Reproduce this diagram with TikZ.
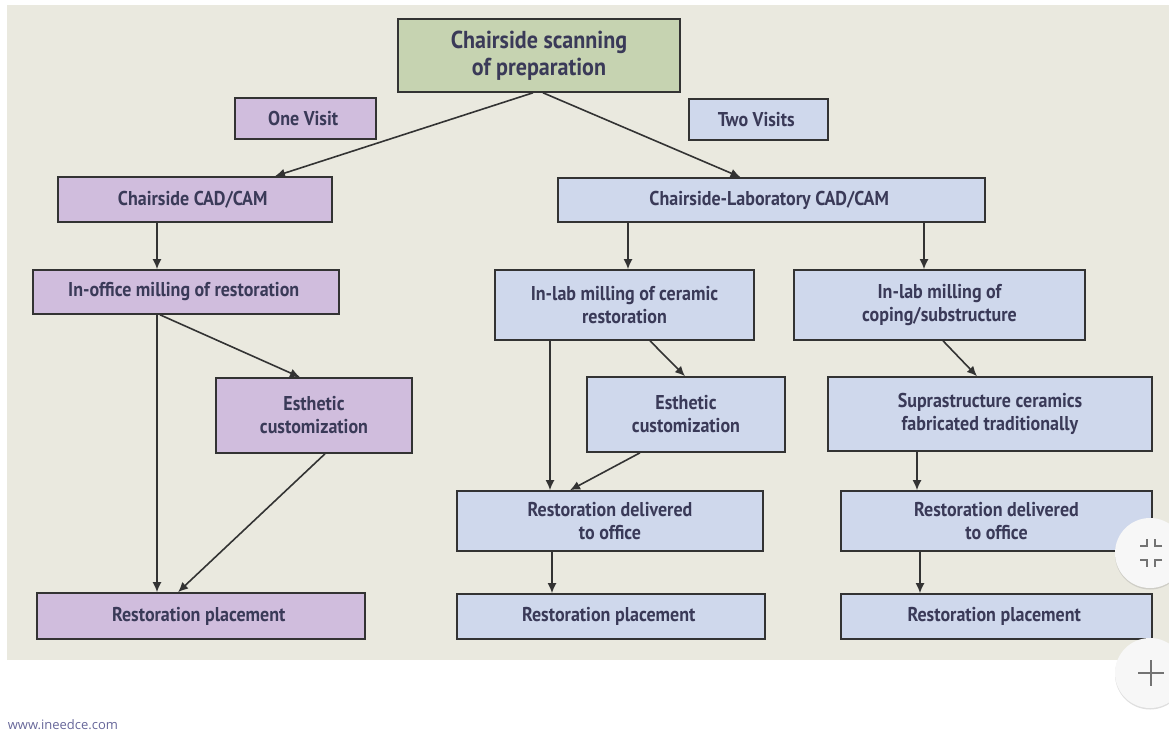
\documentclass[tikz,border=0pt]{standalone}
\usepackage{fontspec}
\setmainfont{PT Sans}
\newfontfamily\boxfont[FakeStretch=0.9]{PT Sans}
\newfontfamily\webfont{Open Sans}
\usetikzlibrary{arrows.meta,shadows}
\usepackage{xcolor}

\definecolor{paper}{HTML}{EAE9DF}
\definecolor{sage}{HTML}{C6D3B1}
\definecolor{lilac}{HTML}{D0BDDD}
\definecolor{powder}{HTML}{CFD8EC}
\definecolor{ink}{HTML}{3A3A58}
\definecolor{frame}{HTML}{333333}

\begin{document}
\begin{tikzpicture}[x=1pt, y=-1pt, >={Latex[length=10pt,width=9pt]},
every node/.style={
    rectangle,
    inner sep=3pt,
    draw=frame,
    line width=1.6pt,
    fill=powder,
    text=ink,
    align=center,
    font=\boxfont\bfseries\fontsize{20}{23}\selectfont
}]
    \useasboundingbox (0,0) rectangle (1169,731);
    \fill[paper] (7,5) rectangle (1169,660);

    \node (scanning) [fill=sage, minimum width=282pt, minimum height=73pt,
        font=\boxfont\bfseries\fontsize{24.5}{27}\selectfont] at (539, 55.5)
    {
        Chairside scanning\\of preparation
    };



    \node (one_visit) [fill=lilac, minimum width=141pt, minimum height=41pt] at (305.5, 118.5)
    {
        One Visit
    };
    \node (chairside_cad_cam) [fill=lilac, minimum width=274pt, minimum height=45pt] at (195, 199.5)
    {
        Chairside CAD/CAM
    };
    \node (in_office_milling) [fill=lilac, minimum width=306pt, minimum height=44pt] at (186, 292)
    {
        In-office milling of restoration
    };
    \node (esthetic_left) [fill=lilac, minimum width=196pt, minimum height=75pt] at (314, 415.5)
    {
        Esthetic\\customization
    };
    \node (placement_left) [fill=lilac, minimum width=328pt, minimum height=46pt] at (201, 616)
    {
        Restoration placement
    };



    \node (two_visits) [minimum width=139pt, minimum height=41pt] at (758.5, 119.5)
    {
        Two Visits
    };
    \node (lab_cad_cam) [minimum width=427pt, minimum height=44pt] at (771.5, 200)
    {
        Chairside-Laboratory CAD/CAM
    };



    \node (in_lab_ceramic) [minimum width=259pt, minimum height=70pt] at (624.5, 305)
    {
        In-lab milling of ceramic\\restoration
    };
    \node (esthetic_mid) [minimum width=198pt, minimum height=75pt] at (686, 414.5)
    {
        Esthetic\\customization
    };
    \node (delivered_mid) [minimum width=306pt, minimum height=60pt] at (610, 521)
    {
        Restoration delivered\\to office
    };
    \node (placement_mid) [minimum width=308pt, minimum height=45pt] at (611, 616.5)
    {
        Restoration placement
    };



    \node (in_lab_coping) [minimum width=291pt, minimum height=70pt] at (939.5, 305)
    {
        In-lab milling of\\coping/substructure
    };
    \node (suprastructure) [minimum width=324pt, minimum height=74pt] at (990, 414)
    {
        Suprastructure ceramics\\fabricated traditionally
    };
    \node (delivered_right) [minimum width=311pt, minimum height=60pt] at (996.5, 521)
    {
        Restoration delivered\\to office
    };
    \node (placement_right) [minimum width=311pt, minimum height=45pt] at (996.5, 616.5)
    {
        Restoration placement
    };


    \node (website) [draw=none, fill=none, anchor=west, text=gray!80!blue,
        font=\webfont\fontsize{13}{15}\selectfont] at (4, 725)
    {
        www.ineedce.com
    };

    % viewer buttons
    \fill[gray!6, drop shadow={opacity=0.25, shadow xshift=0pt, shadow yshift=-1.5pt}] (1150, 553) circle (35);
    \fill[gray!6, drop shadow={opacity=0.25, shadow xshift=0pt, shadow yshift=-1.5pt}] (1150, 673) circle (35);
    \draw[gray!90!black, line width=2pt] (1140, 546) -- (1147, 546) -- (1147, 539);
    \draw[gray!90!black, line width=2pt] (1162, 546) -- (1155, 546) -- (1155, 539);
    \draw[gray!90!black, line width=2pt] (1140, 560) -- (1147, 560) -- (1147, 567);
    \draw[gray!90!black, line width=2pt] (1162, 560) -- (1155, 560) -- (1155, 567);
    \draw[gray!90!black, line width=2pt] (1138, 673) -- (1164, 673) (1151, 660) -- (1151, 686);



    \draw[->, frame, line width=1.6pt] ([xshift=-6pt]scanning.south) to ([xshift=80pt]chairside_cad_cam.north);
    \draw[->, frame, line width=1.6pt] ([xshift=4pt]scanning.south) to ([xshift=-31pt]lab_cad_cam.north);
    \draw[->, frame, line width=1.6pt] ([xshift=-38pt]chairside_cad_cam.south) to ([xshift=-29pt]in_office_milling.north);
    \draw[->, frame, line width=1.6pt] ([xshift=-26pt]in_office_milling.south) to ([xshift=-14pt]esthetic_left.north);
    \draw[->, frame, line width=1.6pt] ([xshift=-29pt]in_office_milling.south) to ([xshift=-44pt]placement_left.north);
    \draw[->, frame, line width=1.6pt] ([xshift=11pt]esthetic_left.south) to ([xshift=-23pt]placement_left.north);
    \draw[->, frame, line width=1.6pt] ([xshift=-143.5pt]lab_cad_cam.south) to ([xshift=3.5pt]in_lab_ceramic.north);
    \draw[->, frame, line width=1.6pt] ([xshift=152.5pt]lab_cad_cam.south) to ([xshift=-15.5pt]in_lab_coping.north);
    \draw[->, frame, line width=1.6pt] ([xshift=-74.5pt]in_lab_ceramic.south) to ([xshift=-60pt]delivered_mid.north);
    \draw[->, frame, line width=1.6pt] ([xshift=25.5pt]in_lab_ceramic.south) to ([xshift=-1pt]esthetic_mid.north);
    \draw[->, frame, line width=1.6pt] ([xshift=-46pt]esthetic_mid.south) to ([xshift=-40pt]delivered_mid.north);
    \draw[->, frame, line width=1.6pt] ([xshift=3.5pt]in_lab_coping.south) to ([xshift=-13pt]suprastructure.north);
    \draw[->, frame, line width=1.6pt] ([xshift=-73pt]suprastructure.south) to ([xshift=-79.5pt]delivered_right.north);
    \draw[->, frame, line width=1.6pt] ([xshift=-58pt]delivered_mid.south) to ([xshift=-59pt]placement_mid.north);
    \draw[->, frame, line width=1.6pt] ([xshift=-76.5pt]delivered_right.south) to ([xshift=-76.5pt]placement_right.north);


\end{tikzpicture}
\end{document}
